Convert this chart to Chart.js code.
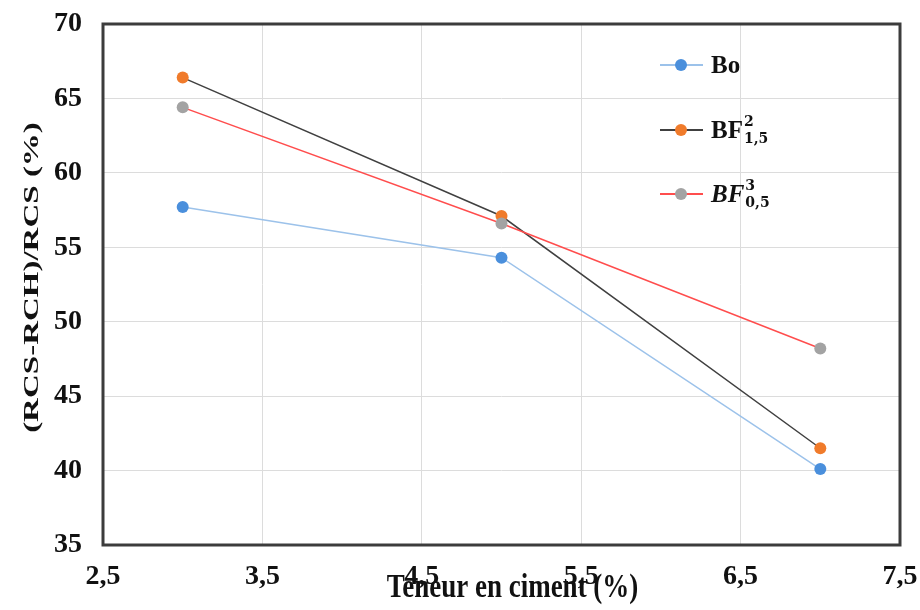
<!DOCTYPE html>
<html>
<head>
<meta charset="utf-8">
<title>Teneur en ciment</title>
<script src="https://cdn.jsdelivr.net/npm/chart.js"></script>
<style>
  body { margin: 0; background: #fff; }
  #wrap { position: relative; width: 920px; height: 610px; }
  .leg { position: absolute; left: 660px; height: 30px; display: flex; align-items: center;
         font-family: "Liberation Serif", serif; font-weight: bold; font-size: 25px; color: #111; }
  .sw { position: relative; width: 43px; height: 30px; margin-right: 8px; }
  .sw i { position: absolute; left: 0; right: 0; top: 14px; height: 2px; }
  .sw b { position: absolute; left: 15px; top: 9px; width: 12px; height: 12px; border-radius: 50%; }
  .ss { display: inline-flex; flex-direction: column; margin-left: 1px;
        font-family: "DejaVu Serif", serif; font-weight: bold; font-size: 14px; line-height: 17px; font-style: normal; }
</style>
</head>
<body>
<div id="wrap">
  <canvas id="ratioChart" width="920" height="610"></canvas>
</div>
<script>
// données
const xValues = [3, 5, 7];
const boValues = [57.7, 54.3, 40.1];
const bf2Values = [66.4, 57.1, 41.5];
const bf3Values = [64.4, 56.6, 48.2];
const xTicks = [2.5, 3.5, 4.5, 5.5, 6.5, 7.5];
const yTicks = [35, 40, 45, 50, 55, 60, 65, 70];

// légende : BF avec exposant / indice
const seriesNames = ['Bo', 'BF', 'BF'];
const seriesSup = ['', '2', '3'];
const seriesSub = ['', '1,5', '0,5'];
const seriesItalic = [false, false, true];
const lineColors = ['#9cc2ea', '#404040', '#ff4d4d'];
const pointColors = ['#4a8fdc', '#f07b2b', '#a3a3a3'];

const xTitle = 'Teneur en ciment (%)';
const yTitle = '(RCS-RCH)/RCS (%)';

Chart.defaults.font.family = '"Liberation Serif", serif';
Chart.defaults.color = '#111';

function toPoints(values) {
    return xValues.map((x, i) => ({ x: x, y: values[i] }));
}

function makeDataset(i, values, order) {
    return {
        label: seriesNames[i] + seriesSup[i] + seriesSub[i],
        data: toPoints(values),
        borderColor: lineColors[i],
        backgroundColor: pointColors[i],
        pointBackgroundColor: pointColors[i],
        pointBorderColor: pointColors[i],
        borderWidth: 1.5,
        pointRadius: 6,
        pointBorderWidth: 0,
        tension: 0,
        order: order
    };
}

// cadre du graphique
const framePlugin = {
    id: 'frame',
    beforeDatasetsDraw(chart) {
        const { ctx, chartArea: a } = chart;
        ctx.save();
        ctx.strokeStyle = '#3c3c3c';
        ctx.lineWidth = 3;
        ctx.strokeRect(a.left, a.top, a.right - a.left, a.bottom - a.top);
        ctx.restore();
    }
};

// titres des axes (police étirée comme sur l'original)
const axisTitles = {
    id: 'axisTitles',
    afterDraw(chart) {
        const { ctx, chartArea: a } = chart;
        ctx.save();
        ctx.fillStyle = '#111';
        ctx.textAlign = 'center';
        ctx.textBaseline = 'alphabetic';
        ctx.font = 'bold 25px "Liberation Serif"';
        ctx.translate((a.left + a.right) / 2 + 11, 597);
        ctx.scale(1.08, 1.33);
        ctx.fillText(xTitle, 0, 0);
        ctx.restore();

        ctx.save();
        ctx.fillStyle = '#111';
        ctx.textAlign = 'center';
        ctx.textBaseline = 'middle';
        ctx.font = 'bold 22px "Liberation Serif"';
        ctx.translate(32, (a.top + a.bottom) / 2 - 7);
        ctx.rotate(-Math.PI / 2);
        ctx.scale(1.5, 1);
        ctx.fillText(yTitle, 0, 0);
        ctx.restore();
    }
};

const ctx = document.getElementById('ratioChart').getContext('2d');
const ratioChart = new Chart(ctx, {
    type: 'line',
    data: {
        datasets: [
            makeDataset(0, boValues, 2),
            makeDataset(1, bf2Values, 1),
            makeDataset(2, bf3Values, 0)
        ]
    },
    options: {
        responsive: false,
        animation: false,
        layout: { padding: { top: 24, right: 20, left: 0, bottom: 0 } },
        scales: {
            x: {
                type: 'linear',
                min: 2.5,
                max: 7.5,
                afterBuildTicks: axis => { axis.ticks = xTicks.map(v => ({ value: v })); },
                afterFit: axis => { axis.height = 65; },
                ticks: {
                    padding: 0,
                    font: { size: 28, weight: 'bold' },
                    callback: v => v.toFixed(1).replace('.', ',')
                },
                grid: { color: '#dcdcdc', drawTicks: true, tickLength: 15, tickColor: 'rgba(0,0,0,0)' },
                border: { display: false }
            },
            y: {
                min: 35,
                max: 70,
                afterBuildTicks: axis => { axis.ticks = yTicks.map(v => ({ value: v })); },
                afterFit: axis => { axis.width = 103; },
                ticks: {
                    padding: 0,
                    font: { size: 28, weight: 'bold' }
                },
                grid: { color: '#dcdcdc', drawTicks: true, tickLength: 21, tickColor: 'rgba(0,0,0,0)' },
                border: { display: false }
            }
        },
        plugins: {
            legend: { display: false },
            tooltip: { enabled: false }
        }
    },
    plugins: [framePlugin, axisTitles]
});

// légende HTML (exposants et indices)
const legendTops = [50, 115, 179];
const wrap = document.getElementById('wrap');
seriesNames.forEach((name, i) => {
    const item = document.createElement('div');
    item.className = 'leg';
    item.style.top = legendTops[i] + 'px';
    let html = '<span class="sw"><i style="background:' + lineColors[i] + '"></i>' +
               '<b style="background:' + pointColors[i] + '"></b></span>';
    html += '<span style="font-style:' + (seriesItalic[i] ? 'italic' : 'normal') + '">' + name + '</span>';
    if (seriesSup[i]) {
        html += '<span class="ss"><span>' + seriesSup[i] + '</span><span>' + seriesSub[i] + '</span></span>';
    }
    item.innerHTML = html;
    wrap.appendChild(item);
});
</script>
</body>
</html>
